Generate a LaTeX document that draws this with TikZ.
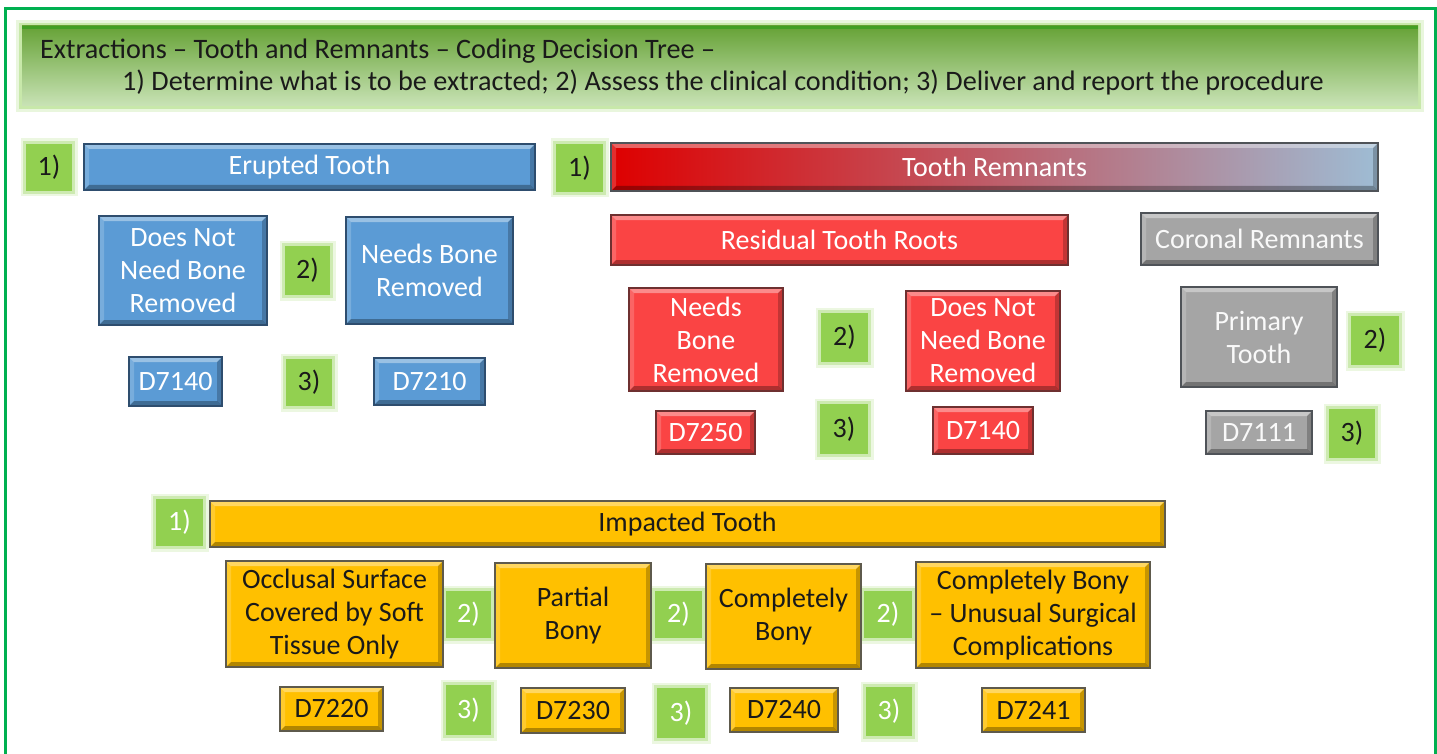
\documentclass[tikz,border=0pt]{standalone}
\usepackage{fontspec}
\setmainfont{Carlito}
\usetikzlibrary{calc}
\definecolor{framegreen}{HTML}{00B050}
\definecolor{badgegreen}{HTML}{92D050}
\definecolor{glowgreen}{HTML}{A9DC78}
\definecolor{titletop}{HTML}{66A236}
\definecolor{titlemid}{HTML}{9CCB74}
\definecolor{titlebot}{HTML}{C9E3B6}
\definecolor{bluefill}{HTML}{5B9BD5}
\definecolor{blueline}{HTML}{2E4D6E}
\definecolor{redfill}{HTML}{FA4444}
\definecolor{redline}{HTML}{6E3030}
\definecolor{grayfill}{HTML}{A5A5A5}
\definecolor{grayline}{HTML}{4F5358}
\definecolor{goldfill}{HTML}{FFC000}
\definecolor{goldline}{HTML}{5E5A4C}
\definecolor{darktext}{HTML}{1A1A1A}
\newcommand\bx[7][]{%
  \pgfmathsetmacro\bxcx{(#3+#5)/2}%
  \pgfmathsetmacro\bxcy{(#4+#6)/2+1}%
  \pgfmathsetmacro\bxww{#5-#3}%
  \pgfmathsetmacro\bxhh{#6-#4}%
  \node[#1, minimum width=\bxww pt, minimum height=\bxhh pt] (#2) at (\bxcx,\bxcy) {#7};}
\tikzset{
  bev/.style={path picture={
    \fill[white,opacity=.38] (path picture bounding box.north west) -- (path picture bounding box.north east)
      -- ([shift={(-5pt,-5pt)}]path picture bounding box.north east) -- ([shift={(5pt,-5pt)}]path picture bounding box.north west) -- cycle;
    \fill[white,opacity=.18] (path picture bounding box.north west) -- (path picture bounding box.south west)
      -- ([shift={(5pt,5pt)}]path picture bounding box.south west) -- ([shift={(5pt,-5pt)}]path picture bounding box.north west) -- cycle;
    \fill[black,opacity=.22] (path picture bounding box.north east) -- (path picture bounding box.south east)
      -- ([shift={(-5pt,5pt)}]path picture bounding box.south east) -- ([shift={(-5pt,-5pt)}]path picture bounding box.north east) -- cycle;
    \fill[black,opacity=.30] (path picture bounding box.south west) -- (path picture bounding box.south east)
      -- ([shift={(-5pt,5pt)}]path picture bounding box.south east) -- ([shift={(5pt,5pt)}]path picture bounding box.south west) -- cycle;
  }},
  boxbase/.style={rectangle, inner sep=0pt, align=center, line width=1.3pt,
    font=\fontsize{28}{33}\selectfont, bev},
  bluebox/.style={boxbase, fill=bluefill, draw=blueline, text=white},
  redbox/.style={boxbase, fill=redfill, draw=redline, text=white},
  graybox/.style={boxbase, fill=grayfill, draw=grayline, text=white!95!gray},
  goldbox/.style={boxbase, fill=goldfill, draw=goldline, text=darktext},
  remnbar/.style={boxbase, draw=grayline, text=white,
    left color={rgb,255:red,222;green,0;blue,0}, middle color={rgb,255:red,196;green,96;blue,115},
    right color={rgb,255:red,158;green,188;blue,212}},
  badge/.style={rectangle, inner sep=0pt, fill=badgegreen, text=darktext,
    font=\fontsize{28}{33}\selectfont,
    preaction={draw=glowgreen, line width=11pt, opacity=.22},
    preaction={draw=glowgreen, line width=6pt, opacity=.45}},
  wbadge/.style={badge, text=white},
  titlebar/.style={rectangle, inner sep=0pt, top color=titletop, middle color=titlemid, bottom color=titlebot,
    preaction={draw=glowgreen, line width=12pt, opacity=.25},
    preaction={draw=glowgreen, line width=6pt, opacity=.5},
    path picture={\fill[black!40!green,opacity=.35] (path picture bounding box.north west) rectangle ([yshift=-3pt]path picture bounding box.north east);}},
  titletext/.style={anchor=base west, inner sep=0pt, text=darktext, font=\fontsize{28.2}{33}\selectfont},
}
\begin{document}
\begin{tikzpicture}[x=1pt,y=-1pt]
\useasboundingbox (0,0) rectangle (1437,754);
\fill[white] (0,0) rectangle (1437,754);
% frame
\draw[framegreen, line width=3pt] (5,754) -- (5,9) -- (1435,9) -- (1435,754);
% title
\bx[titlebar]{title}{22}{25}{1418}{105}{}
\node[titletext] (t1) at (40,59) {Extractions – Tooth and Remnants – Coding Decision Tree –};
\node[titletext] (t2) at (122,91) {1) Determine what is to be extracted; 2) Assess the clinical condition; 3) Deliver and report the procedure};
% badges
\bx[badge]{b1}{26}{143}{72}{190}{1)}
\bx[badge]{b2}{556}{143}{603}{191}{1)}
\bx[badge]{b3}{285}{245}{330}{294}{2)}
\bx[badge]{b4}{286}{358}{332}{405}{3)}
\bx[badge]{b5}{821}{312}{868}{361}{2)}
\bx[badge]{b6}{820}{403}{868}{453}{3)}
\bx[badge]{b7}{1351}{315}{1399}{364}{2)}
\bx[badge]{b8}{1329}{408}{1375}{457}{3)}
\bx[wbadge]{b9}{156}{498}{203}{545}{1)}
\bx[wbadge]{b10}{446}{590}{491}{637}{2)}
\bx[wbadge]{b11}{655}{590}{702}{637}{2)}
\bx[wbadge]{b12}{864}{590}{912}{637}{2)}
\bx[wbadge]{b13}{446}{684}{491}{734}{3)}
\bx[wbadge]{b14}{657}{687}{705}{737}{3)}
\bx[wbadge]{b15}{866}{686}{912}{735}{3)}
% erupted
\bx[bluebox]{erupted}{84}{143}{535}{189}{Erupted Tooth}
\bx[bluebox]{dnb}{99}{215}{267}{324}{Does Not\\Need Bone\\Removed}
\bx[bluebox]{nb}{346}{216}{513}{323}{Needs Bone\\Removed}
\bx[bluebox]{da}{129}{356}{222}{405}{D7140}
\bx[bluebox]{db}{374}{357}{485}{404}{D7210}
% remnants
\bx[remnbar]{remn}{611}{142}{1378}{190}{Tooth Remnants}
\bx[redbox]{residual}{611}{214}{1068}{264}{Residual Tooth Roots}
\bx[graybox]{coronal}{1141}{212}{1378}{264}{Coronal Remnants}
\bx[redbox]{nbr}{629}{287}{783}{390}{Needs\\Bone\\Removed}
\bx[redbox]{dnbr}{906}{290}{1060}{390}{Does Not\\Need Bone\\Removed}
\bx[graybox]{primary}{1181}{286}{1337}{386}{Primary\\Tooth}
\bx[redbox]{dc}{656}{410}{755}{453}{D7250}
\bx[redbox]{dd}{933}{406}{1033}{453}{D7140}
\bx[graybox]{de}{1206}{410}{1312}{453}{D7111}
% impacted
\bx[goldbox]{impacted}{210}{500}{1165}{546}{Impacted Tooth}
\bx[goldbox]{occ}{226}{560}{443}{666}{Occlusal Surface\\Covered by Soft\\Tissue Only}
\bx[goldbox]{partial}{495}{562}{651}{667}{Partial\\Bony}
\bx[goldbox]{comp}{706}{563}{861}{668}{Completely\\Bony}
\bx[goldbox]{compu}{916}{561}{1150}{667}{Completely Bony\\– Unusual Surgical\\Complications}
\bx[goldbox]{df}{280}{686}{383}{730}{D7220}
\bx[goldbox]{dg}{521}{687}{625}{732}{D7230}
\bx[goldbox]{dh}{730}{687}{838}{731}{D7240}
\bx[goldbox]{di}{982}{687}{1085}{731}{D7241}
\end{tikzpicture}
\end{document}
